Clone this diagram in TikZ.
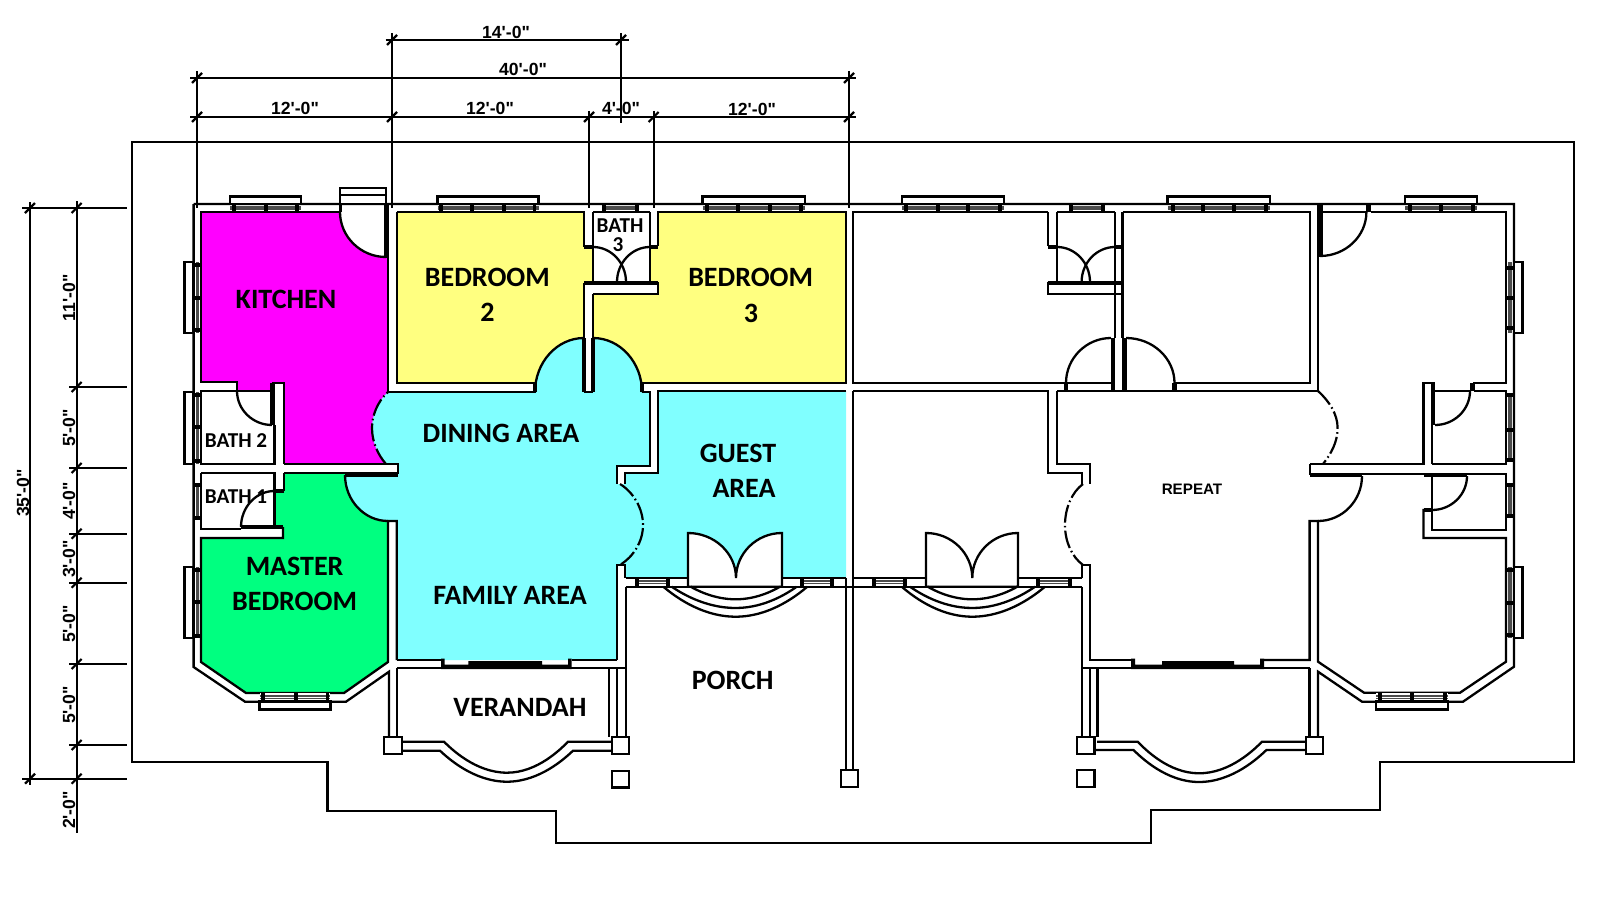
\documentclass[tikz,border=0pt]{standalone}
\usepackage{fontspec}
\setmainfont{Carlito}
\newfontfamily\cad{Liberation Sans}
\definecolor{kit}{HTML}{FF00FF}
\definecolor{bed}{HTML}{FFFF80}
\definecolor{liv}{HTML}{80FFFF}
\definecolor{mas}{HTML}{00FF80}
\newcommand\qa[4]{(#1,#2) .. controls ({#1+0.55*(#3-#1)},#2) and (#3,{#4-0.55*(#4-#2)}) .. (#3,#4)}
\newcommand\qb[4]{(#1,#2) .. controls (#1,{#2+0.55*(#4-#2)}) and ({#3-0.55*(#3-#1)},#4) .. (#3,#4)}
\newcommand\hglaze[4]{\draw[glaze] (#3,{#1+3}) -- (#4,{#1+3}) (#3,{#2-3}) -- (#4,{#2-3});}
\newcommand\vglaze[4]{\draw[glaze] ({#1+3},#3) -- ({#1+3},#4) ({#2-3},#3) -- ({#2-3},#4);}
\newcommand\hmull[3]{\foreach \m in {#3} {\draw[mull] (\m,#1) -- (\m,#2);}}
\newcommand\vmull[3]{\foreach \m in {#3} {\draw[mull] (#1,\m) -- (#2,\m);}}
\newcommand\dtick[2]{\draw[dim] ({#1-5},{#2+5}) -- ({#1+5},{#2-5});}
\begin{document}
\begin{tikzpicture}[x=0.5pt,y=-0.5pt,
  wall/.style={line width=1.15pt,line join=miter},
  leaf/.style={line width=2.3pt},
  dim/.style={line width=1.1pt},
  bound/.style={line width=1.1pt,line join=miter},
  dd/.style={line width=1.1pt,dash pattern=on 9pt off 1.6pt on 0.8pt off 1.6pt},
  glaze/.style={line width=0.6pt,draw=black!70},
  mull/.style={line width=1.9pt},
  winframe/.style={line width=1.4pt,fill=white,line join=miter},
  lab/.style={inner sep=0pt,font=\fontsize{14}{16}\selectfont\bfseries},
  small/.style={inner sep=0pt,font=\fontsize{10.6}{12}\selectfont\bfseries},
  dimt/.style={inner sep=0pt,font=\cad\fontsize{8.8}{10}\selectfont\bfseries},
  rept/.style={inner sep=0pt,font=\cad\fontsize{7.6}{9}\selectfont\bfseries},
]
\useasboundingbox (0,0) rectangle (1600,899);
\fill[white] (0,0) rectangle (1600,899);
% site boundary
\draw[bound] (132,142) -- (1574,142) -- (1574,761.7) -- (1380,761.7) -- (1380,810) -- (1151,810) -- (1151,843) -- (556,843) -- (556,811) -- (327.4,811) -- (327.4,761.7) -- (132,761.7) -- cycle;
% ---- fills
\fill[kit] (201,212) -- \qb{340}{212}{386}{257} -- (388,257) -- (388,464) -- (284,464) -- (284,383) -- (272,383) -- (272,391) -- (237,391) -- (237,382) -- (201,382) -- cycle;
\fill[bed] (396.8,212) -- (584,212) -- (584,246) -- (592.6,246) -- (592.6,282) -- (584,282) -- (584,338) -- \qa{584}{338}{535}{392} -- (535,382.7) -- (396.8,382.7) -- cycle;
\fill[bed] (658,212) -- (846,212) -- (846,382.7) -- (642,382.7) -- (642,392) -- \qb{642}{392}{593}{338} -- (593,294) -- (658,294) -- (658,282) -- (650,282) -- (650,246) -- (658,246) -- cycle;
\fill[mas] (284,473) -- (345,473) -- \qb{345}{473}{388}{521} -- (388,662) -- (344,693) -- (246,693) -- (201,662) -- (201,538) -- (283,538) -- (283,527) -- (274.4,527) -- (274.4,491) -- (284,491) -- cycle;
\fill[liv] (658,391) -- (846,391) -- (846,578) -- (625,578) -- (625,565) -- (617,565) -- (617,484) -- (625,484) -- (625,473) -- (658,473) -- cycle;
\fill[liv] (620,484) .. controls (633,492) and (643,508) .. (643,525) .. controls (643,542) and (633,557) .. (620,565) -- cycle;
\fill[liv] (388,392) -- \qb{535}{392}{583}{338} -- (583,392) -- (593,392) -- \qa{593}{338}{642}{392} -- (650,392) -- (650,466) -- (617,466) -- (617,660) -- (396.8,660) -- (396.8,521) -- (388,521) -- \qa{388}{521}{345}{474} -- (398,474) -- (398,464) -- (386,464) .. controls (378,455) and (372,442) .. (372,428) .. controls (372,416) and (377,402) .. (388,392) -- cycle;
% ---- main outer wall
\draw[wall] (193.6,204) -- (1514,204) -- (1514,666.7) -- (1463,701.7) -- (1362,701.7) -- (1318,671.7) -- (1318,737);
\draw[wall] (193.6,204) -- (193.6,667) -- (245,701.7) -- (346,701.7) -- (389,671.7) -- (389,737);
% ---- left half walls
\draw[wall] (340,212) -- (201,212) -- (201,382) -- (237,382) -- (237,391) -- (272,391);
\draw[wall] \qb{340}{212}{386}{257};
\draw[wall] (388,204) -- (388,392);
\draw[leaf] (386.5,204) -- (386.5,258);
\draw[wall] (237,391) -- (201,391) -- (201,464) -- (274.4,464) -- (274.4,425);
\draw[wall] (284,464) -- (387,464);
\draw[wall] (272,383) -- (284,383) -- (284,464);
\draw[leaf] (272.5,383) -- (272.5,425);
\draw[wall] \qb{237}{391}{272}{425};
\draw[wall] (201,473) -- (201,529) -- (241,529);
\draw[wall] (201,473) -- (274.4,473) -- (274.4,527);
\draw[wall] (284,473) -- (284,491);
\draw[leaf] (274,491) -- (284,491);
\draw[leaf] (241,527) -- (283,527);
\draw[wall] (283,527) -- (283,538) -- (201,538) -- (201,662) -- (246,693) -- (344,693) -- (388,662) -- (388,521) -- (396.8,521) -- (396.8,660);
\draw[wall] \qb{241}{527}{274.4}{491};
\draw[wall] (284,473) -- (345,473);
\draw[leaf] (345,474.5) -- (398,474.5);
\draw[wall] (387,464) -- (398,464) -- (398,474);
\draw[wall] \qb{345}{475}{388}{521};
\draw[dd] (386,464) .. controls (378,455) and (372,442) .. (372,428) .. controls (372,416) and (377,402) .. (388,392);
% bedroom 2 and bedroom 3 with bath 3
\draw[wall] (396.8,212) -- (584,212) -- (584,246) -- (593,246);
\draw[wall] (396.8,212) -- (396.8,382.7) -- (535,382.7) -- (535,392) -- (388,392);
\draw[leaf] (535,383) -- (535,392);
\draw[wall] \qb{535}{392}{584}{338};
\draw[wall] (593,212) -- (593,282);
\draw[wall] (650,212) -- (650,282);
\draw[wall] (593,212) -- (650,212);
\draw[leaf] (584,247) -- (593,247) (650,247) -- (658,247);
\draw[leaf] (584,283) -- (658,283);
\draw[wall] (584,283) -- (584,338) (593,294) -- (593,338) (593,294) -- (658,294) -- (658,282);
\draw[leaf] (584,338) -- (584,392) (593,338) -- (593,392);
\draw[wall] (584,392) -- (593,392);
\draw[wall] \qa{593}{338}{642}{392};
\draw[leaf] (642,383) -- (642,392);
\draw[wall] (642,382.7) -- (846,382.7) -- (846,212) -- (658,212) -- (658,246);
\draw[wall] \qa{593}{247}{626}{282};
\draw[wall] \qa{650}{247}{617}{282};
% dining right side + guest
\draw[wall] (642,392) -- (650,392) -- (650,466) -- (617,466) -- (617,484);
\draw[wall] (846,391) -- (658,391) -- (658,473) -- (625,473) -- (625,484);
\draw[dd] (620,484) .. controls (633,492) and (643,508) .. (643,525) .. controls (643,542) and (633,557) .. (620,565);
\draw[wall] (625,578) -- (625,565) -- (617,565) -- (617,660);
\draw[wall] (396.8,660) -- (441,660) (571.5,660) -- (617,660);
\draw[wall] (396.8,668) -- (625.7,668);
\draw[wall] (396.8,668) -- (396.8,737) (609,668) -- (609,737) (617,668) -- (617,737);
\draw[wall] (625.7,586.7) -- (625.7,737);
\fill (441,658.5) rectangle (444.5,669) (568,658.5) rectangle (571.5,669) (441,664.5) rectangle (571.5,669) (468.4,661) rectangle (542,669);
% strip at porch
\draw[wall] (625.7,578) -- (688,578) (782,578) -- (846,578);
\draw[wall] (853.3,578) -- (926,578) (1018,578) -- (1081.7,578);
\draw[wall] (625.7,586.7) -- (1081.7,586.7);
\draw[wall,fill=white] (688,586.7) -- (688,533) -- \qa{688}{533}{736}{578} -- \qb{736}{578}{782}{533} -- (782,586.7) -- cycle;
\draw[wall,fill=white] (926,586.7) -- (926,533) -- \qa{926}{533}{972.3}{578} -- \qb{972.3}{578}{1018}{533} -- (1018,586.7) -- cycle;
\draw[wall] (690.7,586.7) parabola bend (735.7,599.3) (780,586.7);
\draw[wall] (671.7,586.7) parabola bend (735.7,608) (796.7,586.7);
\draw[wall] (663.3,586.7) parabola bend (735.7,616.7) (807.3,586.7);
\draw[wall] (927.7,586.7) parabola bend (972.3,599.3) (1017.3,586.7);
\draw[wall] (910,586.7) parabola bend (972.3,608) (1035,586.7);
\draw[wall] (901.7,586.7) parabola bend (972.3,616.7) (1045,586.7);
% central wall
\draw[wall] (846,578) -- (846,770) (853.3,212) -- (853.3,382.7) (853.3,391) -- (853.3,770);
% verandah left
\draw[wall] (402,741.7) -- (444,741.7) parabola bend (507,772.7) (568,741.7) -- (612,741.7);
\draw[wall] (402,750.7) -- (440,750.7) parabola bend (507,781.7) (573,750.7) -- (612,750.7);
% ---- right half
\draw[wall] (1047.7,212) -- (853.3,212) -- (853.3,382.7) -- (1066,382.7);
\draw[wall] \qb{1066}{383}{1111}{338};
\draw[wall] (1047.7,212) -- (1047.7,246) (1057,212) -- (1057,282) (1115,212) -- (1115,338) (1057,212) -- (1115,212);
\draw[leaf] (1047.7,247) -- (1057,247) (1115,247) -- (1122.6,247);
\draw[leaf] (1047.7,283) -- (1122.6,283);
\draw[wall] (1047.7,282) -- (1047.7,294) -- (1122.6,294);
\draw[wall] (1122.6,212) -- (1122.6,338);
\draw[leaf] (1113,338) -- (1113,392) (1124.5,338) -- (1124.5,392);
\draw[wall] (1122.6,212) -- (1310,212) -- (1310,382.7) -- (1174.5,382.7);
\draw[wall] \qa{1126}{338}{1174.5}{383};
\draw[wall] (1066,382.7) -- (1111,382.7);
\draw[leaf] (1066,383) -- (1066,391) (1174.5,383) -- (1174.5,391);
\draw[wall] \qa{1057}{247}{1090}{282};
\draw[wall] \qa{1115}{247}{1081.6}{282};
\draw[wall] (853.3,391) -- (1047.7,391) -- (1047.7,472.7) -- (1081.7,472.7) -- (1081.7,484);
\draw[wall] (1057,391) -- (1317.6,391);
\draw[wall] (1057,391) -- (1057,464) -- (1090,464) -- (1090,484);
\draw[dd] (1083,484) .. controls (1072,492) and (1065,508) .. (1065,525) .. controls (1065,542) and (1072,557) .. (1083,565);
\draw[wall] (1081.7,578) -- (1081.7,565) -- (1090,565) -- (1090,660) -- (1131,660);
\draw[wall] (1264,660) -- (1309.6,660) -- (1309.6,521) -- (1318,521) -- (1318,661.7) -- (1364,692.7) -- (1460,692.7) -- (1506,661.7) -- (1506,538) -- (1423.5,538) -- (1423.5,510) -- (1431.7,510);
\fill (1131,658.5) rectangle (1135,669) (1260,658.5) rectangle (1264,669) (1131,664.5) rectangle (1264,669) (1162,661) rectangle (1234,669);
\draw[wall] (1081.7,586.7) -- (1081.7,737) (1090,668) -- (1090,737) (1097.4,668) -- (1097.4,737);
\draw[wall] (1081.7,668) -- (1310,668);
\draw[wall] (1309.6,668) -- (1309.6,737);
\draw[wall] (1097,741.7) -- (1137.7,741.7) parabola bend (1199,773.3) (1262,741.7) -- (1306,741.7);
\draw[wall] (1094.5,750) -- (1133.5,750) parabola bend (1199,782) (1266.4,750) -- (1306,750);
% upper right room
\draw[wall] (1318,204) -- (1318,391);
\draw[wall] (1318,212) -- (1366.4,212) (1371,212) -- (1506,212) -- (1506,382.7) -- (1473.7,382.7) -- (1473.7,391);
\draw[leaf] (1320.5,204) -- (1320.5,257);
\draw[wall] \qb{1366.4}{212}{1320}{256};
\fill (1366,204) rectangle (1371,212);
\draw[dd] (1318,391) .. controls (1329,401) and (1337.6,414) .. (1337.6,428) .. controls (1337.6,442) and (1331,454) .. (1323,464);
\draw[wall] (1310,464) -- (1423.5,464) -- (1423.5,383) -- (1434.8,383);
\draw[leaf] (1433,383) -- (1433,425);
\draw[wall] (1431.7,464) -- (1431.7,425);
\draw[wall] \qb{1470}{391}{1435}{425};
\draw[leaf] (1471.8,383) -- (1471.8,391);
\draw[wall] (1434,391) -- (1470,391) (1473.7,391) -- (1506,391) -- (1506,464) -- (1431.7,464);
\draw[wall] (1310,464) -- (1310,474) -- (1506,474) -- (1506,530) -- (1431.7,530) -- (1431.7,474);
\draw[leaf] (1310,475) -- (1362,475) (1423.5,475) -- (1467,475);
\draw[wall] \qb{1362}{476}{1318}{521};
\draw[wall] \qb{1467}{476}{1432}{510};
\draw[leaf] (1423.5,510) -- (1431.7,510);
% ---- top windows
\foreach \a/\b in {230/301,437.7/538.7,702.7/805,902/1004,1167.5/1270,1405/1477}{
  \draw[winframe] (\a,204) -- (\a,196.5) -- (\b,196.5) -- (\b,204) -- cycle;
  \hglaze{204}{212}{\a}{\b}
}
\hglaze{204}{212}{604}{637}
\hglaze{204}{212}{1071}{1102.6}
\hmull{204}{212}{233.6,266,297,441,472,504,534.5,604,637,706.7,738,770,801,906,937.7,968,1000,1071,1102.6,1172.8,1203,1234,1265.7,1410,1441,1472.6}
% stoop above kitchen door
\draw[wall,fill=white] (340,187.7) rectangle (386,204);
\draw[wall] (340,195) -- (386,195);
\fill (338.5,204) rectangle (342,212);
% bottom bay windows
\foreach \a/\b in {259.7/330.4,1376/1448}{
  \fill[white] (\a,693) rectangle (\b,701.7);
  \hglaze{693}{701.7}{\a}{\b}
  \draw[winframe] (\a,701.7) -- (\a,709.5) -- (\b,709.5) -- (\b,701.7) -- cycle;
}
\hmull{693}{701.7}{263,296,327.5,1379.7,1412,1444.6}
% left windows
\foreach \a/\b in {262/333,392/464,567/638}{
  \draw[winframe] (193.6,\a) -- (184.5,\a) -- (184.5,\b) -- (193.6,\b) -- cycle;
  \vglaze{193.6}{201}{\a}{\b}
}
\vglaze{193.6}{201}{485}{518}
\vmull{193.6}{201}{265,298,330,395,427,461,485,518,570,602,636}
% right windows
\foreach \a/\b in {262/333,567/638}{
  \draw[winframe] (1514,\a) -- (1522.5,\a) -- (1522.5,\b) -- (1514,\b) -- cycle;
  \vglaze{1506}{1514}{\a}{\b}
}
\vglaze{1506}{1514}{395}{460}
\vglaze{1506}{1514}{485}{516}
\vmull{1506}{1514}{268,298,328,395,430,460,485,516,570,603,635}
% porch strip windows
\foreach \a/\b in {637/668,801.7/831.7,874/905,1038/1070}{
  \hglaze{578}{586.7}{\a}{\b}
  \hmull{578}{586.7}{\a,\b}
}
% posts
\foreach \a/\b/\c in {384/402/737,612/629/737,612/629/770.7,840.7/858/770,1077/1094.5/737,1306/1323/737,1077/1094.5/770}{
  \draw[wall,fill=white] (\a,\c) rectangle (\b,{\c+16.7});
}
% ---- dimensions
\draw[dim] (197,71) -- (197,208) (392,33) -- (392,208) (589,111) -- (589,208) (653.6,111) -- (653.6,208) (849,71) -- (849,208) (621,33) -- (621,123);
\draw[dim] (385.5,40) -- (629,40) (190,78) -- (856,78) (190,117) -- (856,117);
\dtick{392}{40}\dtick{621}{40}\dtick{197}{78}\dtick{849}{78}\dtick{197}{117}\dtick{392}{117}\dtick{589}{117}\dtick{653.6}{117}\dtick{849}{117}
\draw[dim] (30,202) -- (30,785) (76.6,201) -- (76.6,833);
\draw[dim] (22,208) -- (127,208) (22,778.7) -- (127,778.7);
\foreach \y in {387,468,533.7,582.7,664,745}{\draw[dim] (69.4,\y) -- (127,\y); \dtick{76.6}{\y}}
\dtick{30}{208}\dtick{76.6}{208}\dtick{30}{778.7}\dtick{76.6}{778.7}
\node[dimt] (d14) at (506,32) {14'-0"};
\node[dimt] (d40) at (523,69) {40'-0"};
\node[dimt] (d12a) at (295,108) {12'-0"};
\node[dimt] (d12b) at (490,108) {12'-0"};
\node[dimt] (d4) at (621,108) {4'-0"};
\node[dimt] (d12c) at (752,109) {12'-0"};
\node[dimt,rotate=90] (v11) at (69,298) {11'-0"};
\node[dimt,rotate=90] (v5a) at (69,428) {5'-0"};
\node[dimt,rotate=90] (v4) at (69,501) {4'-0"};
\node[dimt,rotate=90] (v3) at (69,559) {3'-0"};
\node[dimt,rotate=90] (v5b) at (69,624) {5'-0"};
\node[dimt,rotate=90] (v5c) at (69,705) {5'-0"};
\node[dimt,rotate=90] (v2) at (69,810) {2'-0"};
\node[dimt,rotate=90] (v35) at (23,493) {35'-0"};
% ---- room labels
\node[lab] (kitchen) at (286,299) {KITCHEN};
\node[lab] (bed2a) at (487.4,277) {BEDROOM};
\node[lab] (bed2b) at (487.4,312) {2};
\node[lab] (bed3a) at (750.7,277) {BEDROOM};
\node[lab] (bed3b) at (751,313) {3};
\node[lab] (dining) at (501,433) {DINING AREA};
\node[lab] (guesta) at (738,453) {GUEST};
\node[lab] (guestb) at (744,488) {AREA};
\node[lab] (mastera) at (294.6,566.7) {MASTER};
\node[lab] (masterb) at (294.6,601) {BEDROOM};
\node[lab] (family) at (510,595) {FAMILY AREA};
\node[lab] (verandah) at (520,707.7) {VERANDAH};
\node[lab] (porch) at (732.7,680) {PORCH};
\node[small] (bath2) at (236,441) {BATH 2};
\node[small] (bath1) at (236,497) {BATH 1};
\node[small] (bath3a) at (620,226) {BATH};
\node[small] (bath3b) at (618,245) {3};
\node[rept] (repeat) at (1192,489) {REPEAT};
\end{tikzpicture}
\end{document}
